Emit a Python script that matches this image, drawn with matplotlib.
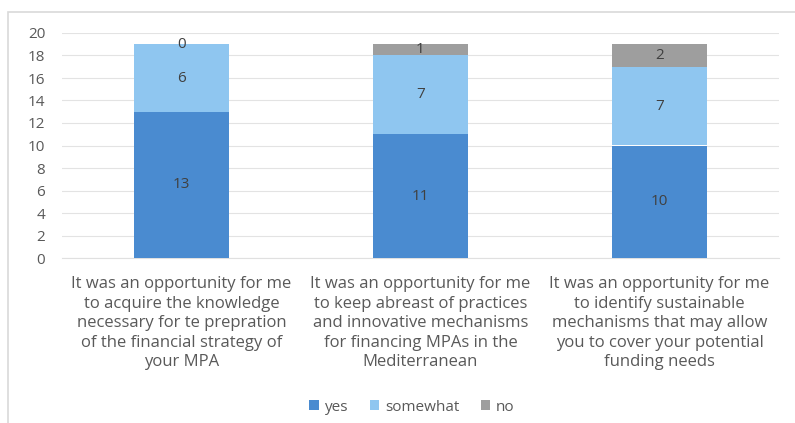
import matplotlib
matplotlib.use("Agg")
import matplotlib.pyplot as plt
import numpy as np
from matplotlib.patches import Rectangle

categories = [
    "It was an opportunity for me\nto acquire the knowledge\nnecessary for te prepration\nof the financial strategy of\nyour MPA",
    "It was an opportunity for me\nto keep abreast of practices\nand innovative mechanisms\nfor financing MPAs in the\nMediterranean",
    "It was an opportunity for me\nto identify sustainable\nmechanisms that may allow\nyou to cover your potential\nfunding needs",
]
series_names = ["yes", "somewhat", "no"]
yes = [13, 11, 10]
somewhat = [6, 7, 7]
no = [0, 1, 2]
colors = ["#4a8bd0", "#8fc6f0", "#9e9e9e"]

plt.rcParams['font.family'] = ['Open Sans', 'DejaVu Sans']
fig = plt.figure(figsize=(7.95, 4.23), dpi=100)
fig.patches.append(Rectangle((8 / 795, -0.2), 1.2, 1.2 - 12 / 423, transform=fig.transFigure,
                             fill=False, edgecolor="#d9d9d9", lw=1.2))
ax = fig.add_axes([62 / 795, 1 - 258 / 423, 717 / 795, 225 / 423])
x = np.arange(len(categories))
w = 0.40
bottom = np.zeros(len(categories))
for name, vals, c in zip(series_names, [yes, somewhat, no], colors):
    ax.bar(x, vals, w, bottom=bottom, color=c, label=name, zorder=3)
    for xi, b, v in zip(x, bottom, vals):
        ax.text(xi, b + v / 2, str(v), ha="center", va="center", fontsize=11,
                color="#404040", zorder=4)
    bottom = bottom + np.array(vals)

ax.set_xlim(-0.5, 2.5)
ax.set_ylim(0, 20)
ax.set_yticks(range(0, 21, 2))
ax.yaxis.grid(True, color="#e3e3e3", lw=0.8, zorder=0)
for s in ["top", "right", "left"]:
    ax.spines[s].set_visible(False)
ax.spines["bottom"].set_color("#e0e0e0")
ax.tick_params(axis="y", length=0, labelsize=11, labelcolor="#595959", pad=12)
ax.tick_params(axis="x", length=0, labelsize=12, labelcolor="#595959", pad=13)
ax.set_xticks(x)
ax.set_xticklabels(categories, linespacing=1.3)
ax.legend(loc="center", bbox_to_anchor=(412 / 795, 1 - 407 / 423),
          bbox_transform=fig.transFigure, ncol=3, frameon=False,
          fontsize=11, handlelength=0.6, handleheight=0.6, handletextpad=0.4,
          columnspacing=1.4, labelcolor="#595959")
fig.savefig("out.png", dpi=100)
